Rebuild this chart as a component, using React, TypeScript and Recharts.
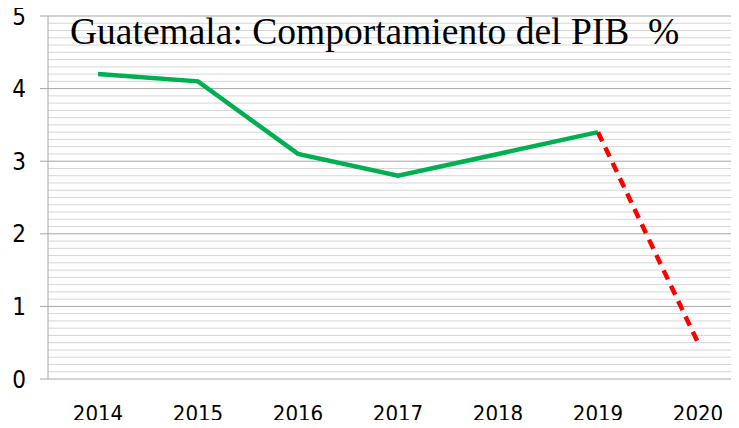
import { LineChart, Line, XAxis, YAxis, ReferenceLine } from 'recharts'

const years = ['2014', '2015', '2016', '2017', '2018', '2019', '2020']
const pibObservado = [4.2, 4.1, 3.1, 2.8, 3.1, 3.4, null]
const pibProyectado = [null, null, null, null, null, 3.4, 0.5]
const yTicks = [0, 1, 2, 3, 4, 5]
const minorTicks = [
  0.1, 0.2, 0.3, 0.4, 0.5, 0.6, 0.7, 0.8, 0.9,
  1.1, 1.2, 1.3, 1.4, 1.5, 1.6, 1.7, 1.8, 1.9,
  2.1, 2.2, 2.3, 2.4, 2.5, 2.6, 2.7, 2.8, 2.9,
  3.1, 3.2, 3.3, 3.4, 3.5, 3.6, 3.7, 3.8, 3.9,
  4.1, 4.2, 4.3, 4.4, 4.5, 4.6, 4.7, 4.8, 4.9,
]
const boundaries = [-0.5, 0.5, 1.5, 2.5, 3.5, 4.5, 5.5, 6.5]

const data = years.map((y, i) => ({
  idx: i,
  year: y,
  real: pibObservado[i],
  proy: pibProyectado[i],
}))

const axisFont = '"Liberation Sans Narrow", "DejaVu Sans Condensed", "Open Sans", sans-serif'

export default function App() {
  return (
    <div style={{ position: 'relative', margin: -8, width: 739, height: 428, overflow: 'hidden', background: '#fff' }}>
      <LineChart width={748} height={428} data={data} margin={{ top: 16, right: 0, left: 0, bottom: 0 }}>
        <YAxis
          domain={[0, 5]}
          ticks={yTicks}
          width={48}
          tickSize={8}
          tickMargin={14}
          axisLine={{ stroke: '#a6a6a6' }}
          tickLine={{ stroke: '#a6a6a6' }}
          tick={{ fill: '#000', fontSize: 24, fontFamily: axisFont }}
        />
        <XAxis
          xAxisId="bounds"
          type="number"
          dataKey="idx"
          domain={[-0.5, 6.5]}
          ticks={boundaries}
          height={0}
          tickSize={8}
          tick={false}
          axisLine={{ stroke: '#a6a6a6' }}
          tickLine={{ stroke: '#a6a6a6' }}
        />
        <XAxis
          xAxisId="labels"
          type="number"
          dataKey="idx"
          domain={[-0.5, 6.5]}
          ticks={years.map((_, i) => i)}
          tickFormatter={(v: number) => years[v] ?? ''}
          height={49}
          tickSize={0}
          tickMargin={26}
          axisLine={false}
          tickLine={false}
          tick={{ fill: '#000', fontSize: 22, fontFamily: axisFont }}
        />
        {minorTicks.map((t) => (
          <ReferenceLine key={'m' + t} y={t} xAxisId="labels" stroke="#d6d6d6" />
        ))}
        {yTicks.map((t) => (
          <ReferenceLine key={t} y={t} xAxisId="labels" stroke="#a6a6a6" />
        ))}
        <Line
          xAxisId="labels"
          dataKey="real"
          type="linear"
          stroke="#00b050"
          strokeWidth={4.5}
          dot={false}
          isAnimationActive={false}
        />
        <Line
          xAxisId="labels"
          dataKey="proy"
          type="linear"
          stroke="#ff0000"
          strokeWidth={4.5}
          strokeDasharray="10 7"
          dot={false}
          isAnimationActive={false}
        />
      </LineChart>
      <div
        style={{
          position: 'absolute',
          left: 70,
          top: 10,
          fontFamily: '"Liberation Serif", "Times New Roman", serif',
          fontSize: 37.5,
          lineHeight: '44px',
          color: '#000',
          whiteSpace: 'pre',
        }}
      >
        {'Guatemala: Comportamiento del PIB  %'}
      </div>
    </div>
  )
}
